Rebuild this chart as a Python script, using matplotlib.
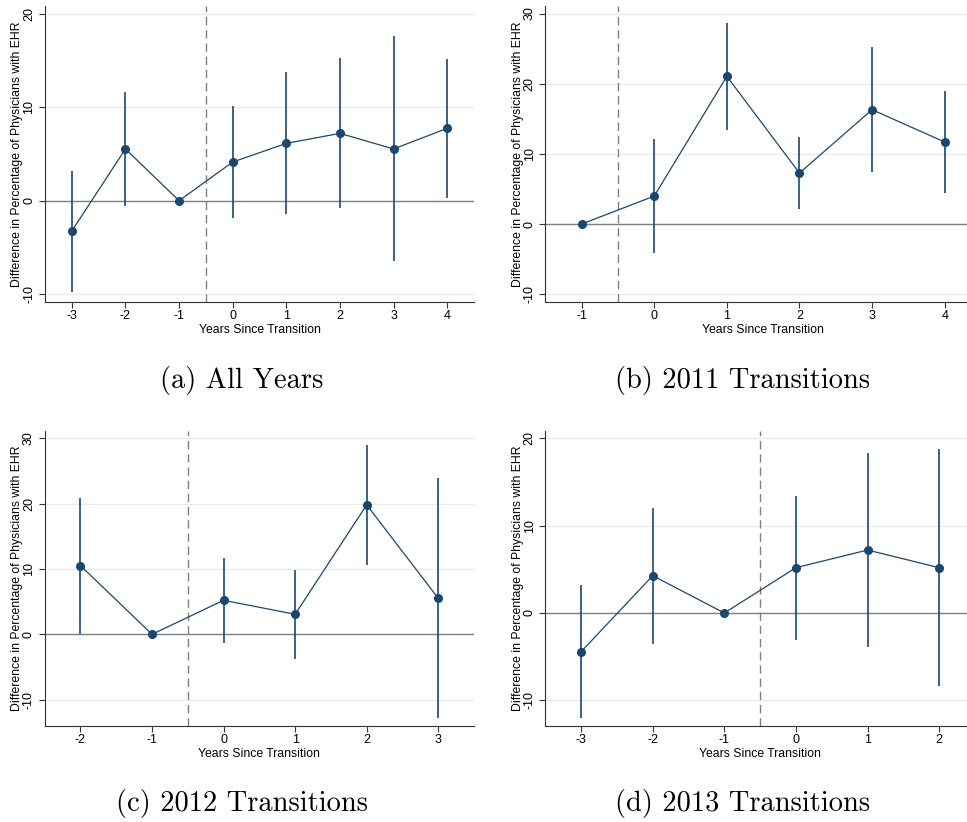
import numpy as np
import matplotlib
matplotlib.use("Agg")
import matplotlib.pyplot as plt

plt.rcParams['font.family'] = ['Liberation Sans', 'DejaVu Sans']
plt.rcParams['axes.unicode_minus'] = False

# event-study estimates (years since transition)
years_a = [-3, -2, -1, 0, 1, 2, 3, 4]
coef_a = [-3.25, 5.54, 0.0, 4.14, 6.14, 7.21, 5.54, 7.75]
lo_a = [-9.75, -0.54, np.nan, -1.9, -1.46, -0.79, -6.46, 0.29]
hi_a = [3.18, 11.6, np.nan, 10.18, 13.75, 15.25, 17.6, 15.2]

years_b = [-1, 0, 1, 2, 3, 4]
coef_b = [0.0, 3.99, 21.05, 7.27, 16.3, 11.69]
lo_b = [np.nan, -4.09, 13.45, 2.19, 7.36, 4.42]
hi_b = [np.nan, 12.1, 28.65, 12.35, 25.27, 18.96]

years_c = [-2, -1, 0, 1, 2, 3]
coef_c = [10.5, 0.0, 5.2, 3.06, 19.8, 5.51]
lo_c = [0.05, np.nan, -1.28, -3.72, 10.56, -12.86]
hi_c = [20.9, np.nan, 11.73, 9.8, 29.0, 23.9]

years_d = [-3, -2, -1, 0, 1, 2]
coef_d = [-4.43, 4.27, 0.0, 5.19, 7.21, 5.19]
lo_d = [-12.06, -3.51, np.nan, -3.05, -3.89, -8.36]
hi_d = [3.2, 12.06, np.nan, 13.4, 18.32, 18.78]

captions = ["(a) All Years", "(b) 2011 Transitions",
            "(c) 2012 Transitions", "(d) 2013 Transitions"]

navy = "#1a476f"
W, H = 967, 822

fig = plt.figure(figsize=(W / 100, H / 100), dpi=100)

def px_axes(x0, x1, y0, y1):
    return fig.add_axes([x0 / W, 1 - y1 / H, (x1 - x0) / W, (y1 - y0) / H])

panels = [
    (years_a, coef_a, lo_a, hi_a, (45, 474, 6, 302), (-3.5, 4.5), (-10.85, 20.85), [-10, 0, 10, 20]),
    (years_b, coef_b, lo_b, hi_b, (545.3, 981, 6, 302), (-1.5, 4.5), (-11.1, 31.07), [-10, 0, 10, 20, 30]),
    (years_c, coef_c, lo_c, hi_c, (44.7, 474, 431, 726), (-2.5, 3.5), (-14.03, 31.1), [-10, 0, 10, 20, 30]),
    (years_d, coef_d, lo_d, hi_d, (545.3, 975, 431, 726), (-3.5, 2.5), (-12.94, 20.84), [-10, 0, 10, 20]),
]

for yrs, coef, lo, hi, box, xl, yl, yt in panels:
    ax = px_axes(*box)
    ax.set_xlim(*xl)
    ax.set_ylim(*yl)
    for v in yt:
        ax.axhline(v, color="#eaeaea", lw=0.9, zorder=0)
    ax.axhline(0, color="#808080", lw=1.0, zorder=1)
    ax.axvline(-0.5, color="#808080", lw=1.0, ls=(0, (6, 3.5)), zorder=1)
    ax.vlines(yrs, lo, hi, color=navy, lw=1.2, zorder=2)
    ax.plot(yrs, coef, color=navy, lw=0.9, marker="o", ms=5.5, zorder=3)
    ax.set_xticks(yrs)
    ax.set_yticks(yt)
    ax.tick_params(labelsize=9, length=4, width=0.8, color="#333333", pad=2)
    ax.tick_params(axis="y", pad=3)
    for lab in ax.get_yticklabels():
        lab.set_rotation(90)
        lab.set_va("center")
    ax.set_xlabel("Years Since Transition", fontsize=8.8, labelpad=1)
    ax.set_ylabel("Difference in Percentage of Physicians with EHR", fontsize=8.8, labelpad=0)
    ax.spines["top"].set_visible(False)
    ax.spines["right"].set_visible(False)
    ax.spines["left"].set_color("#333333")
    ax.spines["bottom"].set_color("#333333")

cap_pos = [(242, 380), (743, 380), (242, 803), (743, 803)]
for (cx, cy), txt in zip(cap_pos, captions):
    fig.text(cx / W, 1 - cy / H, txt, ha="center", va="center",
             fontsize=20.5, family="cmr10")

fig.savefig("out.png", dpi=100)
